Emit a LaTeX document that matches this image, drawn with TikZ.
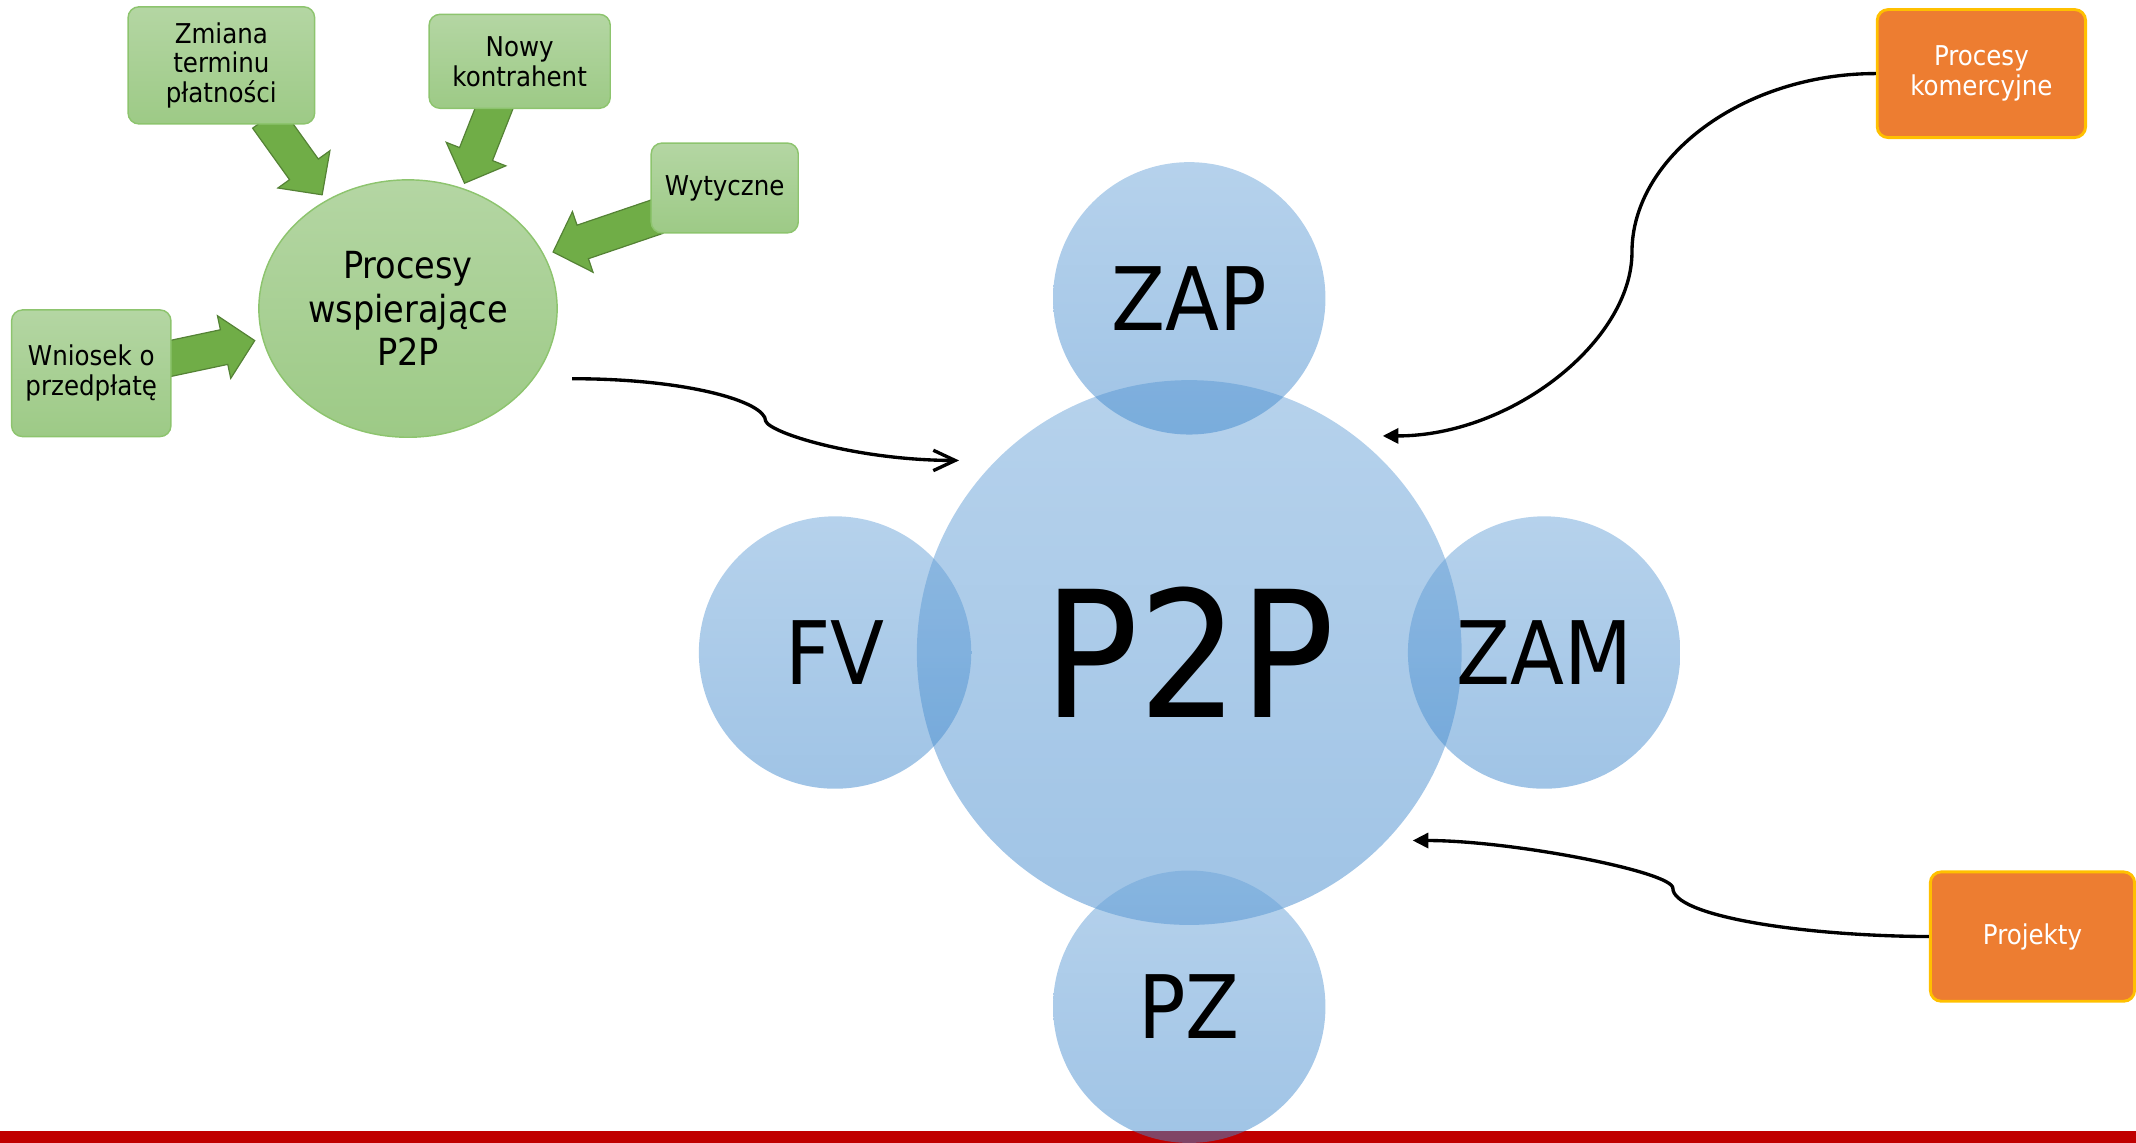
\documentclass[tikz,border=0pt]{standalone}
\usepackage{fontspec}
\setmainfont{DejaVu Sans Condensed}
\usetikzlibrary{calc,shapes.geometric,arrows.meta}
\definecolor{gtop}{HTML}{B4D6A3}
\definecolor{gbot}{HTML}{9DCA86}
\definecolor{gborder}{HTML}{8DC46E}
\definecolor{afill}{HTML}{70AD47}
\definecolor{aborder}{HTML}{548235}
\definecolor{btop}{RGB}{109,165,217}
\definecolor{bbot}{RGB}{65,137,205}
\definecolor{orfill}{HTML}{ED7D31}
\definecolor{orborder}{HTML}{FFC000}
\definecolor{redbar}{HTML}{C00000}
\pgfdeclarelayer{bg}
\pgfsetlayers{bg,main}
\newcommand{\blockarrow}[3]{%
  \coordinate (#3c) at ($(#2)!0.46cm!(#1)$);
  \filldraw[fill=afill, draw=aborder, line width=0.5pt, line join=miter]
   ($(#1)!0.26cm!90:(#2)$) -- ($(#3c)!0.26cm!90:(#2)$) -- ($(#3c)!0.47cm!90:(#2)$) -- (#2)
   -- ($(#3c)!0.47cm!-90:(#2)$) -- ($(#3c)!0.26cm!-90:(#2)$) -- ($(#1)!0.26cm!-90:(#2)$) -- cycle;
}
\begin{document}
\begin{tikzpicture}[x=0.02cm,y=-0.02cm,
  gbox/.style={rectangle, rounded corners=0.16cm, top color=gtop, bottom color=gbot, draw=gborder, line width=0.6pt, align=center, font=\fontsize{11.4}{12.5}\selectfont, inner sep=0pt},
  obox/.style={rectangle, rounded corners=0.16cm, fill=orfill, draw=orborder, line width=1.2pt, align=center, text=white, font=\fontsize{11.4}{12.5}\selectfont, inner sep=0pt},
  bcirc/.style={circle, top color=btop, bottom color=bbot, fill opacity=0.5, text opacity=1, draw=none, inner sep=0pt},
  conn/.style={line width=1.4pt},
]
\useasboundingbox (0,0) rectangle (1568,839);
\fill[redbar] (0,830) rectangle (1568,839);

% green part
\node[gbox, minimum width=2.74cm, minimum height=1.72cm] (zmiana) at (162.5,48) {Zmiana\\terminu\\płatności};
\node[gbox, minimum width=2.66cm, minimum height=1.38cm] (nowy) at (381.5,45) {Nowy\\kontrahent};
\node[gbox, minimum width=2.16cm, minimum height=1.32cm] (wyt) at (532,138) {Wytyczne};
\node[gbox, minimum width=2.34cm, minimum height=1.86cm] (wniosek) at (67,274) {Wniosek o\\przedpłatę};
\node[ellipse, top color=gtop, bottom color=gbot, draw=gborder, line width=0.6pt, minimum width=4.38cm, minimum height=3.78cm, inner sep=0pt, align=center, font=\fontsize{15.6}{18.1}\selectfont] (wsp) at (299.5,226.5) {Procesy\\wspierające\\P2P};

\begin{pgfonlayer}{bg}
  \coordinate (zs) at ($(zmiana.south)+(33.5,-5)$);
  \coordinate (zt) at ($(wsp.center)+(-63,-83.5)$);
  \coordinate (ns) at ($(nowy.south)+(-17,-5)$);
  \coordinate (nt) at ($(wsp.center)+(41.5,-92)$);
  \coordinate (ws) at ($(wyt.west)+(5,21)$);
  \coordinate (wt) at ($(wsp.center)+(106.5,-41.5)$);
  \coordinate (ps) at ($(wniosek.east)+(-5,-10)$);
  \coordinate (pt) at ($(wsp.center)+(-112.5,23.5)$);
  \blockarrow{zs}{zt}{za}
  \blockarrow{ns}{nt}{na}
  \blockarrow{ws}{wt}{wa}
  \blockarrow{ps}{pt}{pa}
\end{pgfonlayer}

% blue circles
\node[bcirc, minimum size=8cm, font=\fontsize{73.5}{88}\selectfont] (p2p) at (873,479) {P2P};
\node[bcirc, minimum size=4cm, font=\fontsize{36.6}{44}\selectfont] (zap) at (873,219) {ZAP};
\node[bcirc, minimum size=4cm, font=\fontsize{36.6}{44}\selectfont] (fv) at (613,479) {FV};
\node[bcirc, minimum size=4cm, font=\fontsize{36.6}{44}\selectfont] (zam) at (1133.5,479) {ZAM};
\node[bcirc, minimum size=4cm, font=\fontsize{36.6}{44}\selectfont] (pz) at (873,739) {PZ};

% orange boxes
\node[obox, minimum width=3.06cm, minimum height=1.88cm] (kom) at (1454.5,54) {Procesy\\komercyjne};
\node[obox, minimum width=3.0cm, minimum height=1.9cm] (proj) at (1492,687.5) {Projekty};

% connectors
\draw[conn, -{Straight Barb[length=0.32cm,width=0.3cm]}] ($(wsp.center)+(120.5,51.5)$) .. controls (505,278) and (562,295) .. (562,309) .. controls (565,318) and (630,338) .. ($(p2p.center)+(-169,-141)$);
\draw[conn, -{Triangle[length=0.23cm,width=0.22cm]}] (kom.west) .. controls (1280,54) and (1198,115) .. (1198,185) .. controls (1198,250) and (1110,320) .. ($(p2p.center)+(142,-159)$);
\draw[conn, -{Triangle[length=0.23cm,width=0.22cm]}] (proj.west) .. controls (1320,687) and (1228,672) .. (1228,652) .. controls (1228,640) and (1110,617) .. ($(p2p.center)+(164,138)$);
\end{tikzpicture}
\end{document}
